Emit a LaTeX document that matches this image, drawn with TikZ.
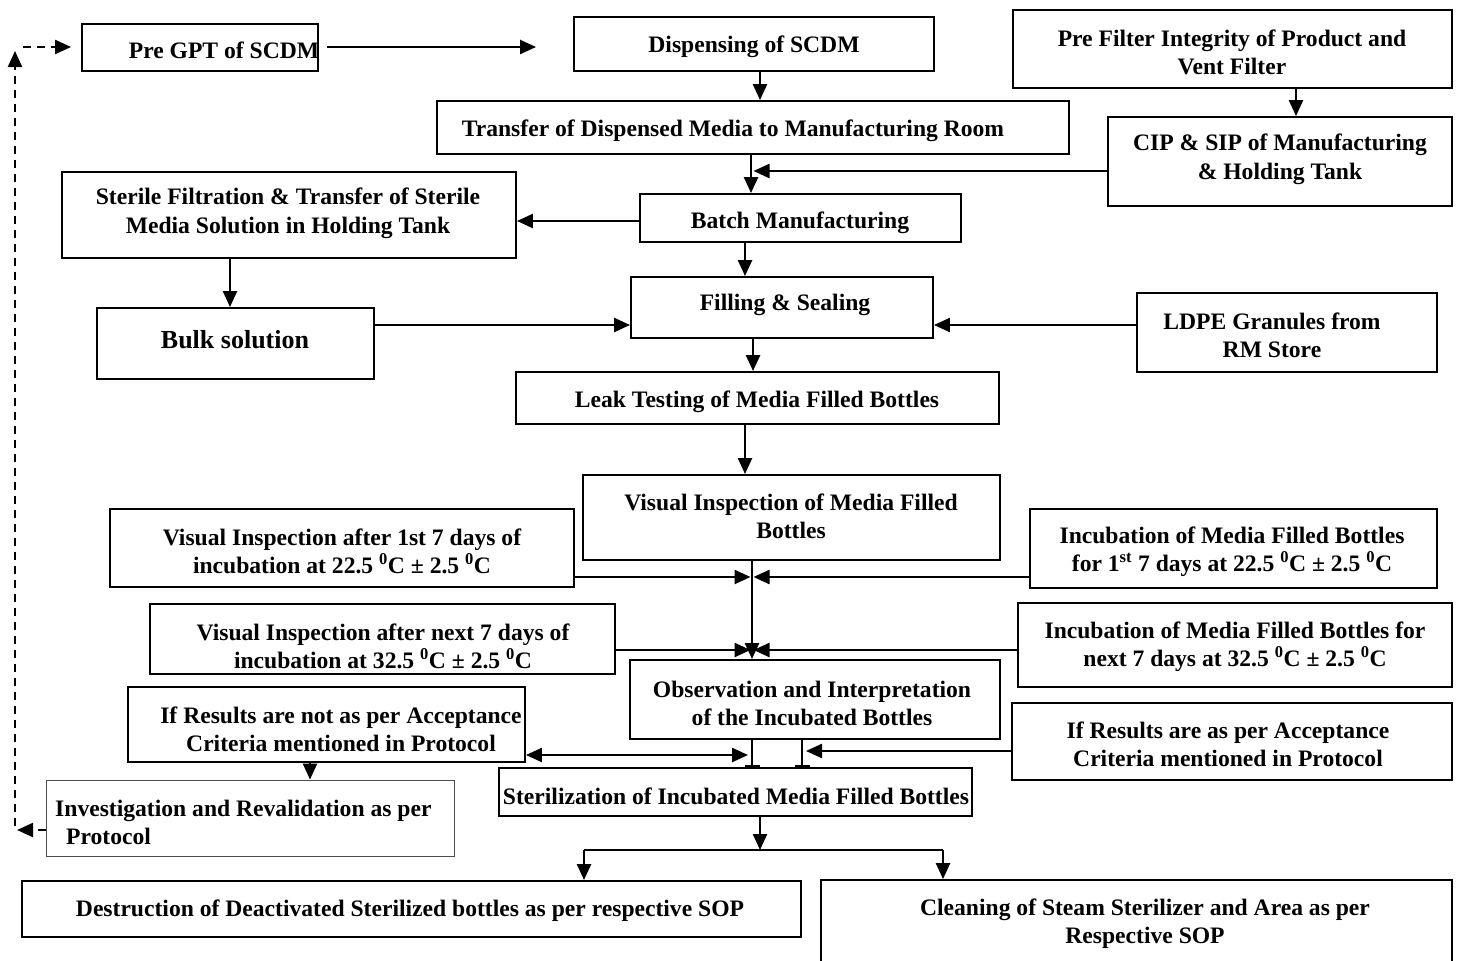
\documentclass[tikz,border=0pt]{standalone}
\usepackage{fontspec}
\setmainfont{Liberation Serif}
\usetikzlibrary{arrows.meta}

% box given by its left, top, right and bottom edges
\newcommand\flowbox[6][box]{%
  \node[#1, minimum width={#5-#3}, minimum height={#6-#4}] (#2) at ({(#3+#5)/2},{(#4+#6)/2}) {};}

\begin{document}
\begin{tikzpicture}[x=1pt, y=-1pt,
  box/.style={draw, line width=1.9pt, rectangle, inner sep=0pt},
  thinbox/.style={draw=black!70, line width=0.9pt, rectangle, inner sep=0pt},
  txt/.style={font=\fontsize{23.6}{28.5}\selectfont\bfseries, align=center, inner sep=0pt, yshift=-2.5pt},
  link/.style={line width=2.4pt},
  tip/.tip={Triangle[length=16pt, width=14pt]},
  arr/.style={link, -tip},
  darr/.style={line width=2.2pt, dash pattern=on 8pt off 6pt, -tip},
  barend/.style={link, -{Bar[width=15pt, line width=2.2pt]}}]

\useasboundingbox[fill=white] (0,0) rectangle (1457,961);

% ---- boxes ----
\flowbox{pregpt}{82}{24}{318}{71}
\flowbox{disp}{574}{17}{934}{71}
\flowbox{prefilt}{1013}{10}{1452}{88}
\flowbox{trans}{437}{101}{1069}{154}
\flowbox{cip}{1108}{117}{1452}{206}
\flowbox{steril}{62}{172}{516}{258}
\flowbox{batch}{640}{194}{961}{242}
\flowbox{fill}{631}{277}{933}{338}
\flowbox{bulk}{97}{308}{374}{379}
\flowbox{ldpe}{1137}{293}{1437}{372}
\flowbox{leak}{516}{372}{999}{424}
\flowbox{vis}{583}{475}{1000}{560}
\flowbox{vione}{110}{509}{574}{587}
\flowbox{incone}{1030}{509}{1437}{588}
\flowbox{vitwo}{150}{604}{615}{674}
\flowbox{inctwo}{1018}{603}{1452}{687}
\flowbox{obs}{630}{660}{1000}{739}
\flowbox{ifnot}{128}{687}{525}{762}
\flowbox{ifare}{1012}{703}{1452}{780}
\flowbox{ster}{499}{768}{972}{816}
\flowbox[thinbox]{inv}{46}{780}{454}{856}
\flowbox{destr}{22}{881}{801}{937}
\flowbox{clean}{821}{880}{1452}{975}

% ---- texts ----
\node[txt] (pregpt-t) at (224,48) {Pre GPT of SCDM};
\node[txt] (disp-t) at (754,44) {Dispensing of SCDM};
\node[txt] (prefilt-t) at (1232,50) {Pre Filter Integrity of Product and\\Vent Filter};
\node[txt] (trans-t) at (733,128) {Transfer of Dispensed Media to Manufacturing Room};
\node[txt] (cip-t) at (1280,157) {CIP \& SIP of Manufacturing\\\& Holding Tank};
\node[txt] (steril-t) at (288,211) {Sterile Filtration \& Transfer of Sterile\\Media Solution in Holding Tank};
\node[txt] (batch-t) at (800,220) {Batch Manufacturing};
\node[txt] (fill-t) at (785,302) {Filling \& Sealing};
\node[txt, font=\fontsize{26}{30}\selectfont\bfseries] (bulk-t) at (235,337) {Bulk solution};
\node[txt] (ldpe-t) at (1272,333) {LDPE Granules from\\RM Store};
\node[txt] (leak-t) at (757,399) {Leak Testing of Media Filled Bottles};
\node[txt] (vis-t) at (791,514) {Visual Inspection of Media Filled\\Bottles};
\node[txt] (vione-t) at (342,549) {Visual Inspection after 1st 7 days of\\incubation at 22.5 \textsuperscript{0}C ± 2.5 \textsuperscript{0}C};
\node[txt] (incone-t) at (1232,549) {Incubation of Media Filled Bottles\\for 1\textsuperscript{st} 7 days at 22.5 \textsuperscript{0}C ± 2.5 \textsuperscript{0}C};
\node[txt] (vitwo-t) at (383,644) {Visual Inspection after next 7 days of\\incubation at 32.5 \textsuperscript{0}C ± 2.5 \textsuperscript{0}C};
\node[txt] (inctwo-t) at (1235,644) {Incubation of Media Filled Bottles for\\next 7 days at 32.5 \textsuperscript{0}C ± 2.5 \textsuperscript{0}C};
\node[txt] (obs-t) at (812,701) {Observation and Interpretation\\of the Incubated Bottles};
\node[txt] (ifnot-t) at (341,727) {If Results are not as per Acceptance\\Criteria mentioned in Protocol};
\node[txt] (ifare-t) at (1228,742) {If Results are as per Acceptance\\Criteria mentioned in Protocol};
\node[txt] (ster-t) at (736,794) {Sterilization of Incubated Media Filled Bottles};
\node[txt, align=left, anchor=west] (inv-t) at (55,820) {Investigation and Revalidation as per\\\hspace*{11pt}Protocol};
\node[txt] (destr-t) at (410,908) {Destruction of Deactivated Sterilized bottles as per respective SOP};
\node[txt] (clean-t) at (1145,921) {Cleaning of Steam Sterilizer and Area as per\\Respective SOP};

% ---- junction points ----
\coordinate (ja) at (751,171);
\coordinate (j1) at (752,577);
\coordinate (j2) at (752,650);
\coordinate (j3) at (752,755);
\coordinate (j4) at (802,751);
\coordinate (sp) at (760,850);
\coordinate (spl) at (584,850);
\coordinate (spr) at (943,850);
\coordinate (dl) at (15,830);
\coordinate (dt) at (15,47);

% ---- upper flow ----
\draw[arr, shorten <=8pt, shorten >=37pt] (pregpt.east |- dt) -- (disp.west |- dt);
\draw[arr] (disp.south -| 760,0) -- (trans.north -| 760,0);
\draw[arr] (prefilt.south -| 1296,0) -- (cip.north -| 1296,0);
\draw[arr] (trans.south -| ja) -- (batch.north -| ja);
\draw[arr] (cip.west |- ja) -- ([xshift=2.5pt]ja);
\draw[arr] (batch.west |- 0,221) -- (steril.east |- 0,221);
\draw[arr] (batch.south -| 745,0) -- (fill.north -| 745,0);
\draw[arr] (steril.south -| 230,0) -- (bulk.north -| 230,0);
\draw[arr] (bulk.east |- 0,325) -- (fill.west |- 0,325);
\draw[arr] (ldpe.west |- 0,325) -- (fill.east |- 0,325);
\draw[arr] (fill.south -| 753,0) -- (leak.north -| 753,0);
\draw[arr] (leak.south -| 745,0) -- (vis.north -| 745,0);

% ---- inspection and incubation ----
\draw[arr] (vis.south -| j1) -- (obs.north -| j1);
\draw[arr] (vione.east |- j1) -- ([xshift=-1.5pt]j1);
\draw[arr] (incone.west |- j1) -- ([xshift=1.5pt]j1);
\draw[arr] (vitwo.east |- j2) -- ([xshift=-1.5pt]j2);
\draw[arr] (inctwo.west |- j2) -- ([xshift=1.5pt]j2);

% ---- results ----
\draw[barend] (obs.south -| j3) -- (ster.north -| j3);
\draw[barend] (obs.south -| j4) -- (ster.north -| j4);
\draw[link, tip-tip] (ifnot.east |- j3) -- ([xshift=-4pt]j3);
\draw[arr] (ifare.west |- j4) -- ([xshift=4pt]j4);
\draw[arr] (ifnot.south -| 310,0) -- (inv.north -| 310,0);

% ---- final split ----
\draw[arr] (ster.south -| sp) -- (sp);
\draw[link] (spl) -- (spr);
\draw[arr] (spl) -- (destr.north -| spl);
\draw[arr] (spr) -- (clean.north -| spr);

% ---- revalidation loop ----
\draw[darr] (inv.west |- dl) -- ([xshift=2pt]dl);
\draw[darr] ([yshift=4pt]dl) -- ([yshift=-4pt]dt);
\draw[darr, shorten >=10pt] ([xshift=8pt]dt) -- (pregpt.west |- dt);
\end{tikzpicture}
\end{document}
